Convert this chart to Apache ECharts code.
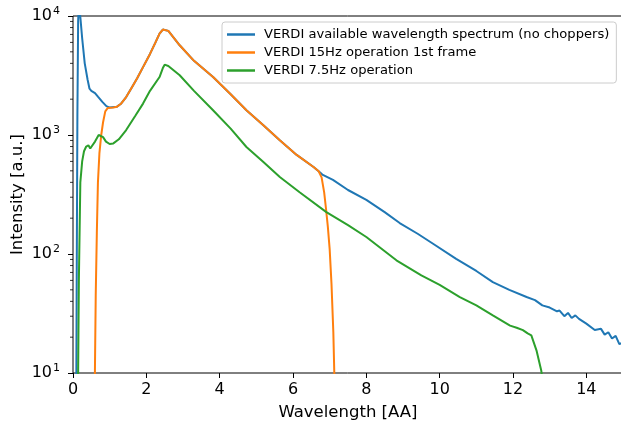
<!DOCTYPE html>
<html>
<head>
<meta charset="utf-8">
<script src="https://cdn.jsdelivr.net/npm/echarts@6/dist/echarts.min.js"></script>
<style>
  html, body { margin: 0; padding: 0; background: #fff; }
  #chart { width: 621px; height: 426px; }
</style>
</head>
<body>
<div id="chart"></div>
<script>
// series names
var names = [
  'VERDI available wavelength spectrum (no choppers)',
  'VERDI 15Hz operation 1st frame',
  'VERDI 7.5Hz operation'
];

// full spectrum (blue)
var blueX = [0.08, 0.10, 0.12, 0.14, 0.16, 0.20, 0.25, 0.32, 0.40, 0.45, 0.50, 0.60, 0.68, 0.80, 0.91, 1.0,
  1.2, 1.3, 1.45, 1.6, 1.75, 1.91, 2.1, 2.25, 2.36, 2.45, 2.5, 2.6, 2.91, 3.3, 3.82, 4.3, 4.73, 5.2, 5.64, 6.1, 6.56, 6.7,
  6.8, 7.09, 7.5, 8.0, 8.5, 8.91, 9.4, 9.82, 10.45, 11.0, 11.45, 11.9, 12.37, 12.6, 12.8, 13.0, 13.2, 13.27, 13.4, 13.5,
  13.6, 13.7, 13.8, 14.0, 14.23, 14.4, 14.5, 14.6, 14.7, 14.8, 14.9, 15.0];
var blueY = [1, 50, 1500, 9000, 13000, 9800, 6500, 4000, 2900, 2450, 2350, 2250, 2100, 1900, 1750, 1700,
  1730, 1820, 2085, 2500, 3000, 3720, 4800, 6000, 7100, 7700, 7830, 7500, 5675, 4200, 3070, 2200, 1615, 1200, 903, 680, 538, 495,
  465, 420, 345, 285, 225, 182, 148, 122, 91, 72, 58, 50, 43.5, 41, 37, 35.5, 33, 33.5, 30, 32,
  29, 30.5, 28.5, 26, 23, 23.5, 21, 22, 19.5, 20.5, 17.5, 18];

// 15 Hz first frame (orange)
var orangeX = [0.58, 0.60, 0.62, 0.65, 0.68, 0.72, 0.77, 0.82, 0.88, 0.95, 1.0, 1.1, 1.2, 1.3, 1.45, 1.6, 1.75, 1.91,
  2.1, 2.25, 2.36, 2.45, 2.5, 2.6, 2.91, 3.3, 3.82, 4.3, 4.73, 5.2, 5.64, 6.1, 6.56, 6.7, 6.78, 6.85, 6.9, 6.95, 7.0,
  7.05, 7.1, 7.13];
var orangeY = [3, 12, 45, 150, 400, 700, 1000, 1280, 1580, 1690, 1700, 1700, 1730, 1820, 2085, 2500, 3000, 3720,
  4800, 6000, 7100, 7700, 7830, 7500, 5675, 4200, 3070, 2200, 1615, 1200, 903, 680, 538, 495, 440, 330, 240, 170, 110,
  56, 22, 9];

// 7.5 Hz (green)
var greenX = [0.12, 0.14, 0.16, 0.20, 0.25, 0.30, 0.36, 0.42, 0.47, 0.52, 0.60, 0.70, 0.75, 0.82, 0.90, 1.0, 1.1,
  1.25, 1.45, 1.7, 1.91, 2.1, 2.36, 2.45, 2.5, 2.6, 2.91, 3.3, 3.82, 4.3, 4.73, 5.2, 5.64, 6.18, 6.91, 7.5, 8.0, 8.82, 9.5,
  10.0, 10.55, 11.0, 11.45, 11.92, 12.1, 12.27, 12.32, 12.4, 12.5, 12.64, 12.77, 12.85];
var greenY = [3, 10, 60, 400, 600, 730, 800, 820, 770, 770, 880, 1000, 1028, 960, 880, 840, 850,
  920, 1100, 1450, 1836, 2350, 3070, 3650, 3900, 3800, 3180, 2350, 1615, 1130, 793, 590, 444, 330, 225, 175, 139, 88.5, 66,
  55, 43.5, 37, 30.5, 25, 24, 22.9, 23.5, 21.5, 20.7, 15.5, 10.5, 7];

// log axis minor ticks
var minorValues = [20, 30, 40, 50, 60, 70, 80, 90, 200, 300, 400, 500, 600, 700, 800, 900,
  2000, 3000, 4000, 5000, 6000, 7000, 8000, 9000];

var colors = ['#1f77b4', '#ff7f0e', '#2ca02c'];

function pairs(xs, ys) {
  return xs.map(function (x, i) { return [x, ys[i]]; });
}

var font = 'DejaVu Sans';
var chart = echarts.init(document.getElementById('chart'));

var lineSeries = [pairs(blueX, blueY), pairs(orangeX, orangeY), pairs(greenX, greenY)].map(function (d, i) {
  return {
    name: names[i],
    type: 'line',
    data: d,
    showSymbol: false,
    clip: true,
    lineStyle: { width: 2, color: colors[i] },
    itemStyle: { color: colors[i] },
    z: 2 + i
  };
});

var option = {
  animation: false,
  backgroundColor: '#fff',
  textStyle: { fontFamily: font },
  grid: {
    left: 73, top: 16, width: 550, height: 357,
    outerBoundsMode: 'none', containLabel: false,
    show: true, borderColor: '#000', borderWidth: 1, backgroundColor: 'transparent'
  },
  legend: {
    data: names,
    orient: 'vertical',
    left: 222, top: 22,
    padding: [5, 7, 5, 5],
    itemGap: 3,
    itemWidth: 28, itemHeight: 2.5,
    icon: 'rect',
    backgroundColor: 'rgba(255,255,255,0.8)',
    borderColor: '#cccccc', borderWidth: 1, borderRadius: 3,
    textStyle: { fontFamily: font, fontSize: 13.1, color: '#000', lineHeight: 15, padding: [0, 0, 0, 4] }
  },
  xAxis: {
    type: 'value', min: 0, max: 15, interval: 2,
    name: 'Wavelength [AA]', nameLocation: 'middle', nameGap: 31, nameMoveOverlap: false,
    nameTextStyle: { fontFamily: font, fontSize: 16.5, color: '#000' },
    axisLine: { show: false },
    axisTick: { show: true, length: 5, lineStyle: { color: '#000', width: 1 } },
    axisLabel: { fontFamily: font, fontSize: 16, color: '#000', margin: 9, showMaxLabel: false },
    splitLine: { show: false }
  },
  yAxis: {
    type: 'log', logBase: 10, min: 10, max: 10000,
    name: 'Intensity [a.u.]', nameLocation: 'middle', nameGap: 47, nameRotate: 90, nameMoveOverlap: false,
    nameTextStyle: { fontFamily: font, fontSize: 16.5, color: '#000' },
    axisLine: { show: false },
    axisTick: { show: true, length: 5, lineStyle: { color: '#000', width: 1 } },
    axisLabel: {
      fontFamily: font, color: '#000', margin: 13,
      formatter: function (v) {
        var e = Math.round(Math.log10(v));
        return '{b|10}{e|' + e + '}';
      },
      rich: {
        b: { fontFamily: font, fontSize: 16, color: '#000' },
        e: { fontFamily: font, fontSize: 11, color: '#000', verticalAlign: 'top', padding: [0, 0, 10, 1] }
      }
    },
    splitLine: { show: false }
  },
  series: lineSeries.concat([{
    type: 'custom',
    name: 'minor',
    silent: true,
    clip: false,
    data: minorValues.map(function (v) { return [0, v]; }),
    renderItem: function (params, api) {
      var p = api.coord([api.value(0), api.value(1)]);
      return {
        type: 'line',
        shape: { x1: p[0] - 3, y1: p[1], x2: p[0], y2: p[1] },
        style: { stroke: '#000', lineWidth: 0.8 }
      };
    },
    z: 10
  }])
};

chart.setOption(option);
</script>
</body>
</html>
